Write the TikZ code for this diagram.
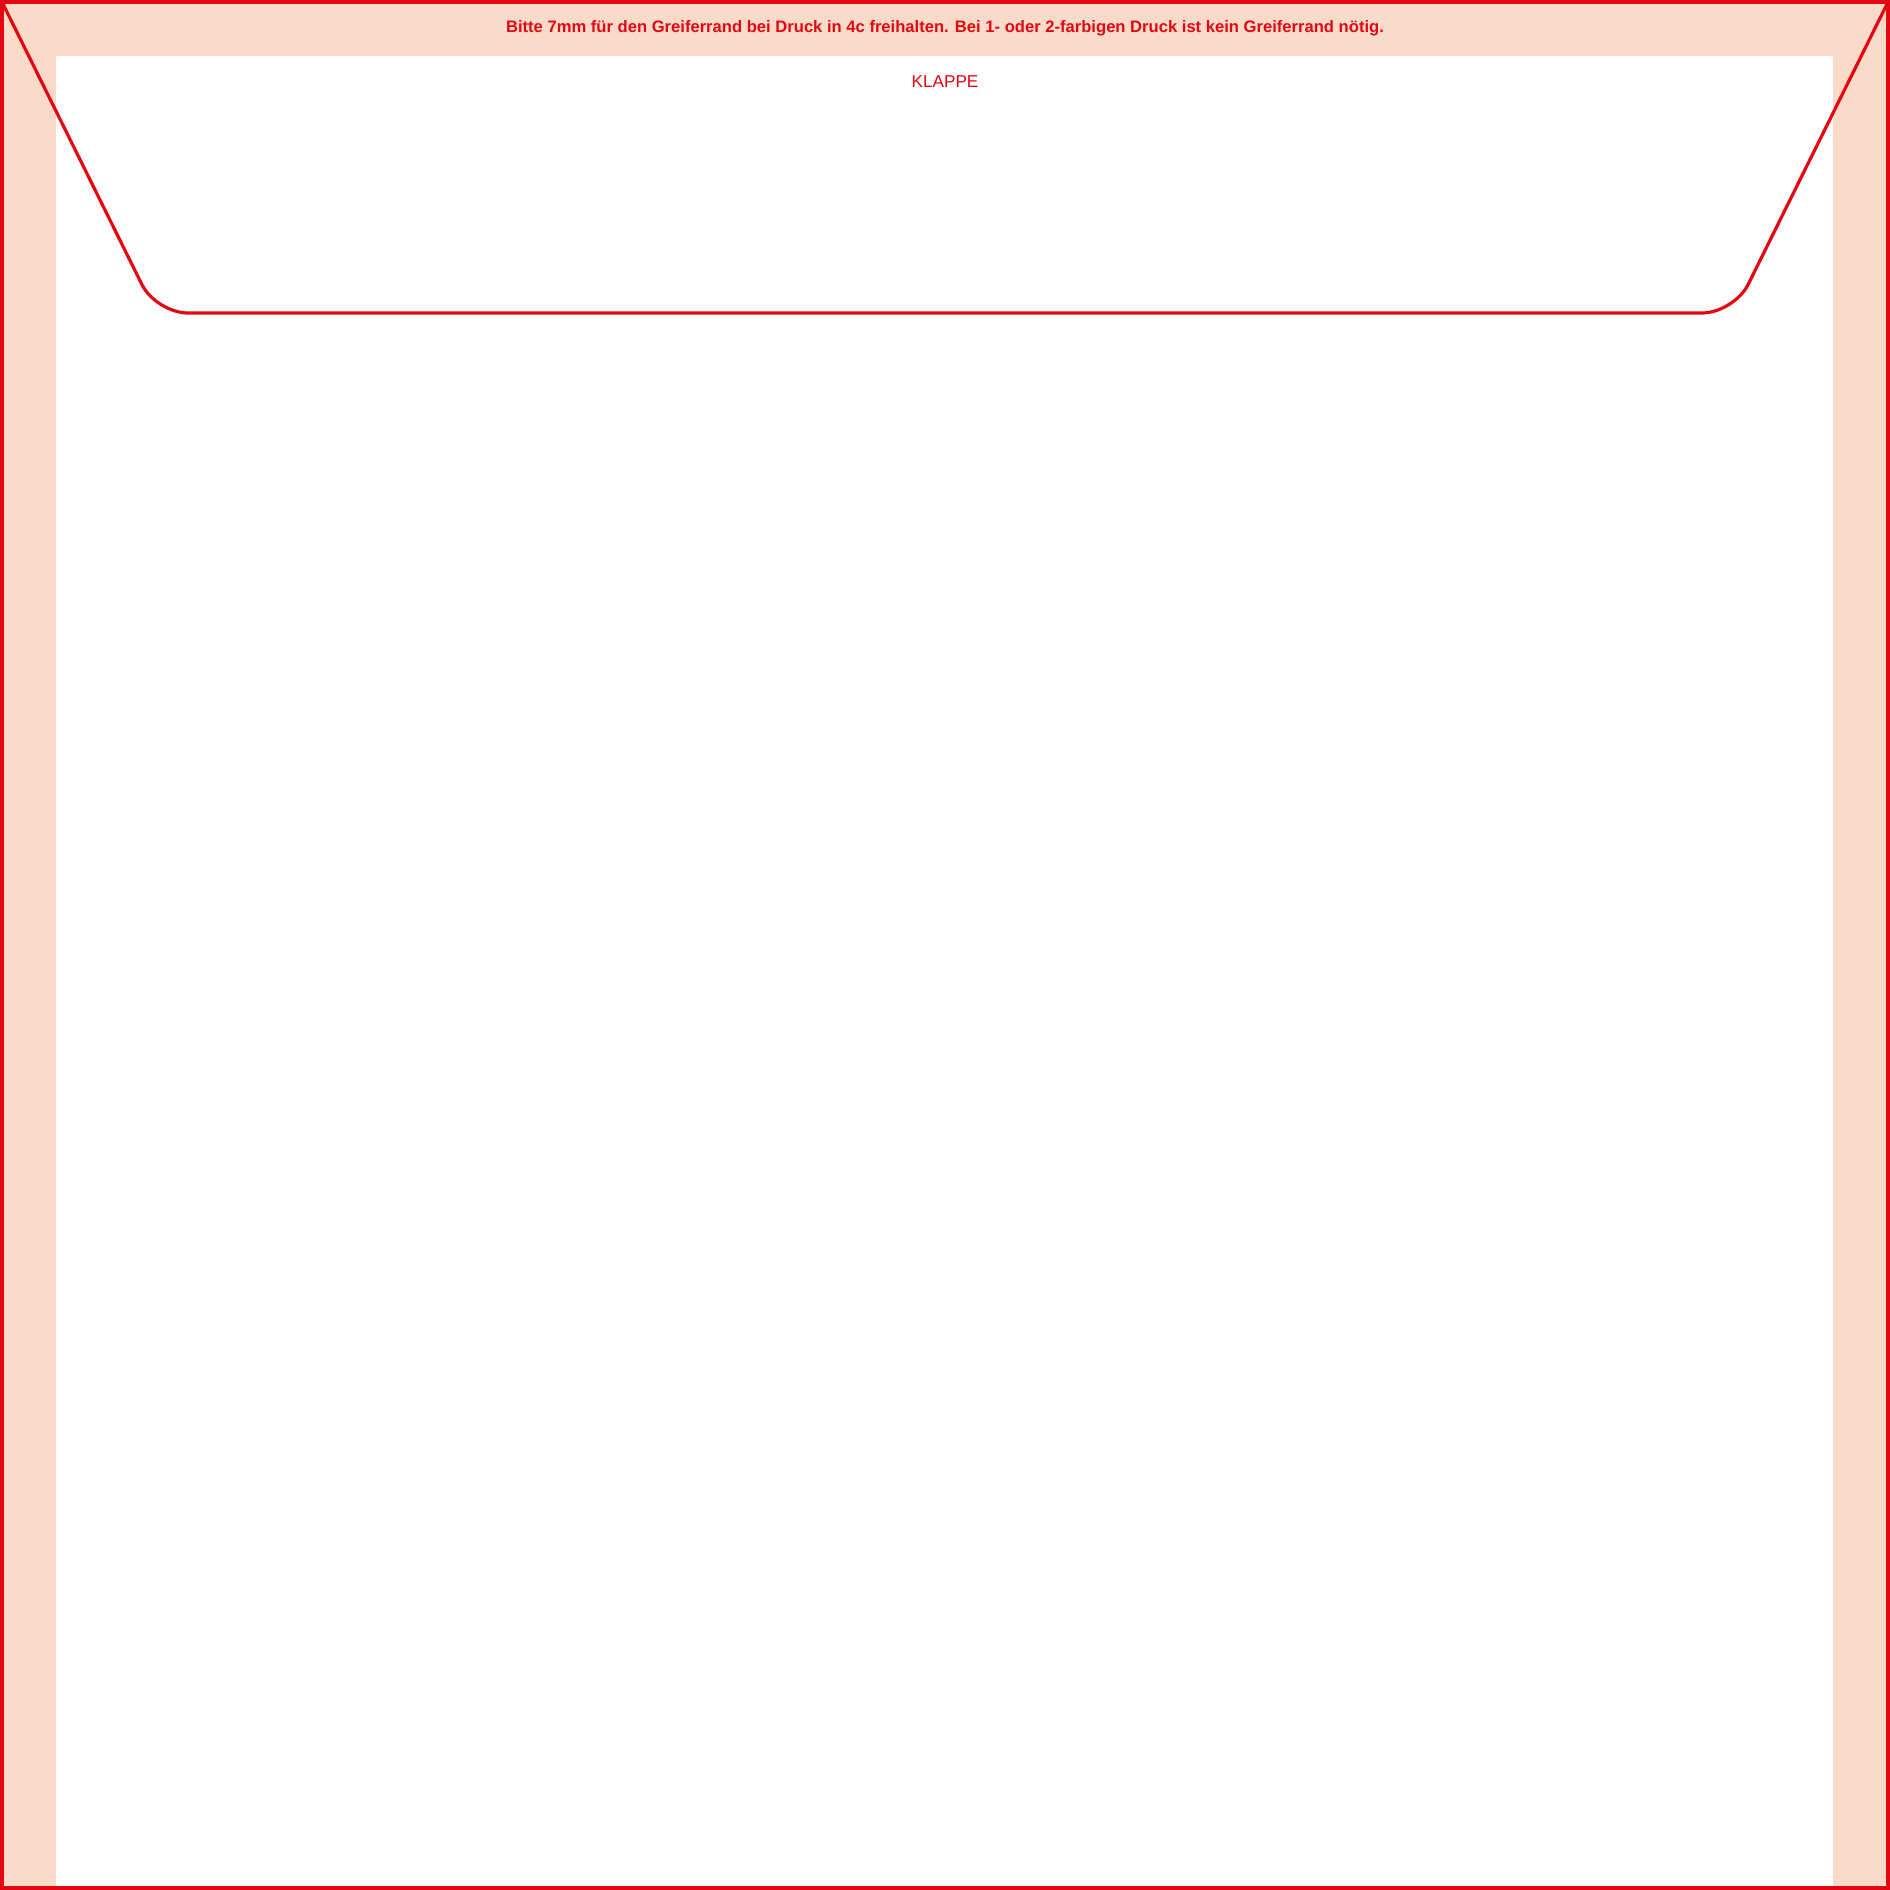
\documentclass[tikz,border=0pt]{standalone}
\usepackage{fontspec}
\setmainfont{Liberation Sans}
\definecolor{cutred}{RGB}{227,6,19}
\definecolor{peach}{RGB}{250,219,202}
\begin{document}
\begin{tikzpicture}[x=0.5pt,y=-0.5pt,
  cutline/.style={draw=cutred,line width=1.6pt,line join=round},
  border/.style={draw=cutred,line width=2pt},
  note/.style={text=cutred,inner sep=0pt,anchor=base,font=\bfseries\fontsize{8.3}{10}\selectfont},
  label/.style={text=cutred,inner sep=0pt,anchor=base,font=\fontsize{8.6}{10}\selectfont}]
\useasboundingbox (0,0) rectangle (1890,1890);
\fill[peach] (0,0) rectangle (1890,1890);
\fill[white] (56,56) rectangle (1833,1886);
\draw[border] (2,2) rectangle (1888,1888);
\coordinate (tl) at (2,2);
\coordinate (tr) at (1888,2);
\draw[cutline,rounded corners=16pt] (tl) -- (156,313) -- (1734,313) -- (tr);
\node[note] (hint) at (945,32) {Bitte 7mm für den Greiferrand bei Druck in 4c freihalten. Bei 1- oder 2-farbigen Druck ist kein Greiferrand nötig.};
\node[label] (klappe) at (945,87) {KLAPPE};
\end{tikzpicture}
\end{document}
